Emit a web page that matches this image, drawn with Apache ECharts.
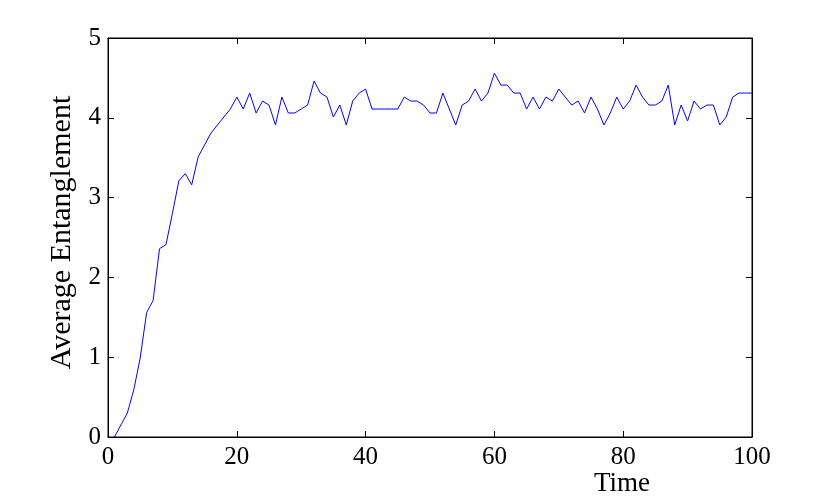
<!DOCTYPE html>
<html>
<head>
<meta charset="utf-8">
<script src="https://cdn.jsdelivr.net/npm/echarts@6/dist/echarts.min.js"></script>
<style>
  html, body { margin: 0; padding: 0; background: #fff; }
  #chart { width: 830px; height: 502px; }
</style>
</head>
<body>
<div id="chart"></div>
<script>
// time steps 1..100
const times = [];
for (let t = 1; t <= 100; t++) times.push(t);

// average entanglement
const entanglement = [
  0.00, 0.15, 0.30, 0.59, 0.99, 1.56, 1.71, 2.36, 2.41, 2.80,
  3.21, 3.30, 3.16, 3.51, 3.66, 3.81, 3.91, 4.01, 4.11, 4.26,
  4.11, 4.31, 4.06, 4.21, 4.16, 3.91, 4.26, 4.06, 4.06, 4.11,
  4.16, 4.46, 4.31, 4.26, 4.01, 4.16, 3.91, 4.21, 4.31, 4.36,
  4.11, 4.11, 4.11, 4.11, 4.11, 4.26, 4.21, 4.21, 4.16, 4.06,
  4.06, 4.31, 4.11, 3.91, 4.16, 4.21, 4.36, 4.21, 4.31, 4.56,
  4.41, 4.41, 4.31, 4.31, 4.11, 4.26, 4.11, 4.26, 4.21, 4.36,
  4.26, 4.16, 4.21, 4.06, 4.26, 4.11, 3.91, 4.06, 4.26, 4.11,
  4.21, 4.41, 4.26, 4.16, 4.16, 4.21, 4.41, 3.91, 4.16, 3.96,
  4.21, 4.11, 4.16, 4.16, 3.91, 4.01, 4.26, 4.31, 4.31, 4.31
];

const font = 'Liberation Serif';
const chart = echarts.init(document.getElementById('chart'));

function tick() {
  return { show: true, inside: true, length: 6, lineStyle: { color: '#000', width: 1 } };
}
function line() {
  return { show: true, onZero: false, lineStyle: { color: '#000', width: 1 } };
}

chart.setOption({
  animation: false,
  grid: {
    left: 108, right: 78, top: 38, bottom: 65,
    show: true, borderColor: '#000', borderWidth: 1, backgroundColor: 'transparent'
  },
  xAxis: [
    {
      type: 'value',
      min: 0, max: 100, interval: 20,
      name: 'Time',
      nameLocation: 'end',
      nameGap: -102,
      nameTextStyle: {
        fontFamily: font, fontSize: 27, color: '#000',
        align: 'right', verticalAlign: 'top', padding: [33, 0, 0, 0]
      },
      axisLine: line(),
      axisTick: tick(),
      axisLabel: { fontFamily: font, fontSize: 25, color: '#000', margin: 8 },
      splitLine: { show: false }
    },
    {
      type: 'value', position: 'top',
      min: 0, max: 100, interval: 20,
      axisLine: line(),
      axisTick: tick(),
      axisLabel: { show: false },
      splitLine: { show: false }
    }
  ],
  yAxis: [
    {
      type: 'value',
      min: 0, max: 5, interval: 1,
      name: 'Average Entanglement',
      nameLocation: 'middle',
      nameGap: 29,
      nameTextStyle: { fontFamily: font, fontSize: 30, color: '#000', padding: [0, 0, 0, 10] },
      axisLine: line(),
      axisTick: tick(),
      axisLabel: { fontFamily: font, fontSize: 25, color: '#000', margin: 7 },
      splitLine: { show: false }
    },
    {
      type: 'value', position: 'right',
      min: 0, max: 5, interval: 1,
      axisLine: line(),
      axisTick: tick(),
      axisLabel: { show: false },
      splitLine: { show: false }
    }
  ],
  series: [{
    type: 'line',
    xAxisIndex: 0,
    yAxisIndex: 0,
    data: times.map((t, i) => [t, entanglement[i]]),
    showSymbol: false,
    lineStyle: { color: '#0000ff', width: 1 },
    itemStyle: { color: '#0000ff' }
  }]
});
</script>
</body>
</html>
